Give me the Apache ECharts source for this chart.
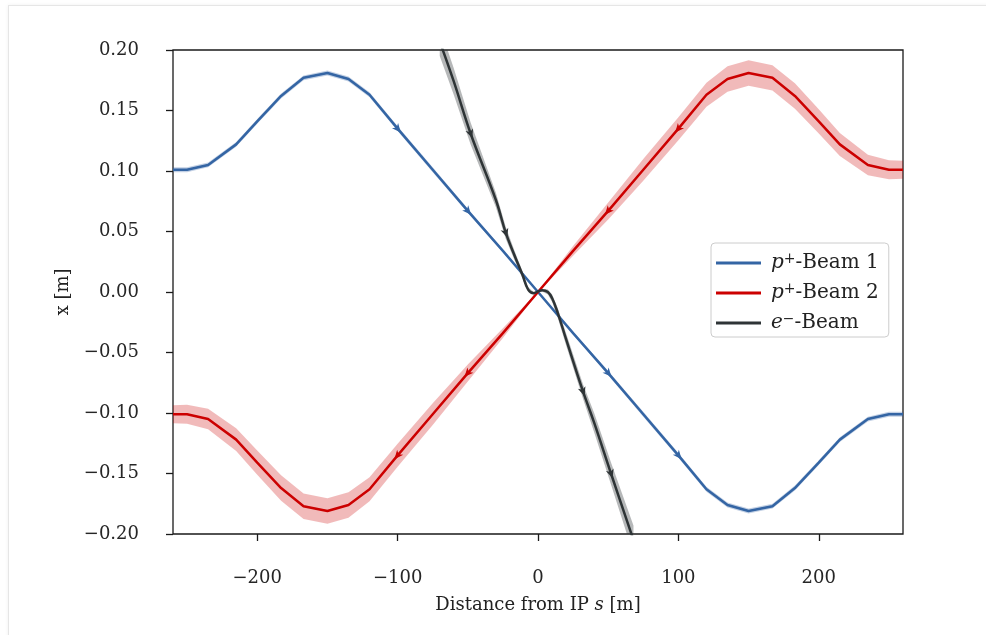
<!DOCTYPE html>
<html>
<head>
<meta charset="utf-8">
<script src="https://cdn.jsdelivr.net/npm/echarts@6/dist/echarts.min.js"></script>
<style>
  html, body { margin: 0; padding: 0; background: #fff; }
  #frame { position: absolute; left: 8px; top: 5px; width: 1000px; height: 650px; border: 1px solid #e6e6e6; box-shadow: 0 0 4px rgba(0,0,0,0.06); }
  #chart { position: absolute; left: 0; top: 0; width: 986px; height: 635px; }
</style>
</head>
<body>
<div id="frame"></div>
<div id="chart"></div>
<script>
const FONT = 'DejaVu Serif'

// proton beams share the same s grid
const sBeam = [-260, -250, -235, -215, -200, -183, -167, -150, -135, -120, -100, -75, -50, -25, 0, 25, 50, 75, 100, 120, 135, 150, 167, 183, 200, 215, 235, 250, 260]
const xBeam1 = [0.101, 0.101, 0.105, 0.122, 0.141, 0.162, 0.177, 0.181, 0.176, 0.163, 0.135, 0.101, 0.067, 0.034, 0, -0.034, -0.067, -0.101, -0.135, -0.163, -0.176, -0.181, -0.177, -0.162, -0.141, -0.122, -0.105, -0.101, -0.101]
const xBeam2 = [-0.101, -0.101, -0.105, -0.122, -0.141, -0.162, -0.177, -0.181, -0.176, -0.163, -0.135, -0.101, -0.067, -0.034, 0, 0.034, 0.067, 0.101, 0.135, 0.163, 0.176, 0.181, 0.177, 0.162, 0.141, 0.122, 0.105, 0.101, 0.101]
const errBeam1 = [0.002, 0.002, 0.002, 0.002, 0.002, 0.002, 0.002, 0.002, 0.002, 0.002, 0.002, 0.002, 0.0018, 0.0012, 0.0005, 0.0012, 0.0018, 0.002, 0.002, 0.002, 0.002, 0.002, 0.002, 0.002, 0.002, 0.002, 0.002, 0.002, 0.002]
const errBeam2 = [0.0075, 0.0078, 0.0085, 0.0095, 0.010, 0.0105, 0.0105, 0.0105, 0.0105, 0.010, 0.0095, 0.009, 0.007, 0.004, 0.0005, 0.004, 0.007, 0.009, 0.0095, 0.010, 0.0105, 0.0105, 0.0105, 0.0105, 0.010, 0.0095, 0.0085, 0.0078, 0.0075]

const sElectron = [-70, -60, -48, -30, -23, -17, -11, -7, -3, 0, 3, 7, 10, 14, 20, 32, 40, 52, 68]
const xElectron = [0.207, 0.174, 0.131, 0.076, 0.049, 0.031, 0.014, 0.002, -0.001, 0.0005, 0.0015, 0.0, -0.005, -0.017, -0.039, -0.082, -0.108, -0.150, -0.205]
const errElectron = [0.012, 0.011, 0.009, 0.006, 0.005, 0.004, 0.003, 0.002, 0.001, 0.0008, 0.001, 0.002, 0.003, 0.004, 0.005, 0.006, 0.008, 0.009, 0.012]

// where the direction arrows sit (s values that exist in the arrays above)
const arrowsBeam1 = [-100, -50, 50, 100]
const arrowsBeam2 = [100, 50, -50, -100]
const arrowsElectron = [-48, -23, 32, 52]

const xTicks = [-200, -100, 0, 100, 200]
const yTicks = [-0.2, -0.15, -0.1, -0.05, 0, 0.05, 0.1, 0.15, 0.2]

const colors = { beam1: '#3465a4', beam2: '#cc0000', electron: '#2e3436' }

const minus = str => str.replace('-', '\u2212')

const bandSeries = (s, x, err, fill) => ({
  type: 'custom',
  silent: true,
  clip: true,
  z: 1,
  data: s.map((v, i) => [v, x[i]]),
  renderItem: (params, api) => {
    if (params.dataIndex !== 0) return
    const upper = s.map((v, i) => api.coord([v, x[i] + err[i]]))
    const lower = s.map((v, i) => api.coord([v, x[i] - err[i]])).reverse()
    return { type: 'polygon', shape: { points: upper.concat(lower) }, style: { fill } }
  }
})

const lineSeries = (name, s, x, color, z, smooth) => ({
  type: 'line',
  name,
  data: s.map((v, i) => [v, x[i]]),
  symbol: 'none',
  smooth,
  z,
  lineStyle: { color, width: 2.5 },
  itemStyle: { color }
})

// small stealth arrowheads, direction taken from the neighbouring points
const arrowSeries = (s, x, at, dir, color, z) => ({
  type: 'custom',
  silent: true,
  z,
  data: at.map(v => {
    const i = s.indexOf(v)
    return [s[i], x[i], s[i - 1], x[i - 1], s[i + 1], x[i + 1]]
  }),
  renderItem: (params, api) => {
    const p = api.coord([api.value(0), api.value(1)])
    const a = api.coord([api.value(2), api.value(3)])
    const b = api.coord([api.value(4), api.value(5)])
    let dx = (b[0] - a[0]) * dir
    let dy = (b[1] - a[1]) * dir
    const len = Math.hypot(dx, dy)
    dx /= len
    dy /= len
    const nx = -dy
    const ny = dx
    const pts = [
      [p[0] + dx * 5, p[1] + dy * 5],
      [p[0] - dx * 4 + nx * 4, p[1] - dy * 4 + ny * 4],
      [p[0] - dx * 1.5, p[1] - dy * 1.5],
      [p[0] - dx * 4 - nx * 4, p[1] - dy * 4 - ny * 4]
    ]
    return { type: 'polygon', shape: { points: pts }, style: { fill: color } }
  }
})

const legendNames = {
  'p+-Beam 1': '{i|p}{sup|+}{t|-Beam 1}',
  'p+-Beam 2': '{i|p}{sup|+}{t|-Beam 2}',
  'e--Beam': '{i|e}{sup|\u2212}{t|-Beam}'
}

const richFor = size => ({
  i: { fontFamily: FONT, fontSize: size, fontStyle: 'italic', color: '#222' },
  sup: { fontFamily: FONT, fontSize: Math.round(size * 0.68), lineHeight: 13, verticalAlign: 'top', color: '#222' },
  t: { fontFamily: FONT, fontSize: size, color: '#222' },
  n: { fontFamily: FONT, fontSize: size, color: '#222' }
})

const chart = echarts.init(document.getElementById('chart'), null, { renderer: 'canvas' })

chart.setOption({
  animation: false,
  backgroundColor: 'transparent',
  grid: { left: 173, right: 83, top: 50, bottom: 101, show: true, borderColor: '#1a1a1a', borderWidth: 1.3, backgroundColor: 'transparent' },
  legend: {
    orient: 'vertical',
    left: 711,
    top: 243,
    padding: [9, 10, 3, 5],
    itemWidth: 45,
    itemHeight: 3,
    itemGap: 8,
    borderColor: '#cccccc',
    borderWidth: 1,
    borderRadius: 4,
    backgroundColor: 'rgba(255,255,255,0.85)',
    data: Object.keys(legendNames).map(name => ({ name, icon: 'rect' })),
    formatter: name => legendNames[name],
    textStyle: { fontFamily: FONT, fontSize: 20, lineHeight: 22, color: '#222', padding: [0, 0, 0, 5], rich: richFor(20) }
  },
  xAxis: {
    type: 'value',
    min: -260,
    max: 260,
    name: '{n|Distance from IP }{i|s}{n| [m]}',
    nameLocation: 'middle',
    nameGap: 62,
    nameTextStyle: { rich: richFor(18) },
    splitLine: { show: false },
    axisLine: { show: false, onZero: false },
    axisTick: { show: true, length: 7, customValues: xTicks, lineStyle: { color: '#1a1a1a', width: 1.3 } },
    axisLabel: {
      customValues: xTicks,
      margin: 35,
      fontFamily: FONT,
      fontSize: 18,
      color: '#262626',
      formatter: v => minus(String(Math.round(v)))
    }
  },
  yAxis: {
    type: 'value',
    min: -0.2,
    max: 0.2,
    name: 'x [m]',
    nameLocation: 'middle',
    nameGap: 101,
    nameTextStyle: { fontFamily: FONT, fontSize: 18, color: '#222' },
    splitLine: { show: false },
    axisLine: { show: false, onZero: false },
    axisTick: { show: true, length: 7, customValues: yTicks, lineStyle: { color: '#1a1a1a', width: 1.3 } },
    axisLabel: {
      customValues: yTicks,
      margin: 34,
      fontFamily: FONT,
      fontSize: 18,
      color: '#262626',
      formatter: v => Math.abs(v) < 1e-9 ? '0.00' : minus(v.toFixed(2))
    }
  },
  series: [
    bandSeries(sBeam, xBeam1, errBeam1, 'rgba(52,101,164,0.3)'),
    bandSeries(sBeam, xBeam2, errBeam2, 'rgba(204,0,0,0.27)'),
    bandSeries(sElectron, xElectron, errElectron, 'rgba(46,52,54,0.35)'),
    lineSeries('p+-Beam 1', sBeam, xBeam1, colors.beam1, 3, false),
    lineSeries('p+-Beam 2', sBeam, xBeam2, colors.beam2, 4, false),
    lineSeries('e--Beam', sElectron, xElectron, colors.electron, 5, 0.4),
    arrowSeries(sBeam, xBeam1, arrowsBeam1, 1, colors.beam1, 6),
    arrowSeries(sBeam, xBeam2, arrowsBeam2, -1, colors.beam2, 6),
    arrowSeries(sElectron, xElectron, arrowsElectron, 1, colors.electron, 6)
  ]
})
</script>
</body>
</html>
